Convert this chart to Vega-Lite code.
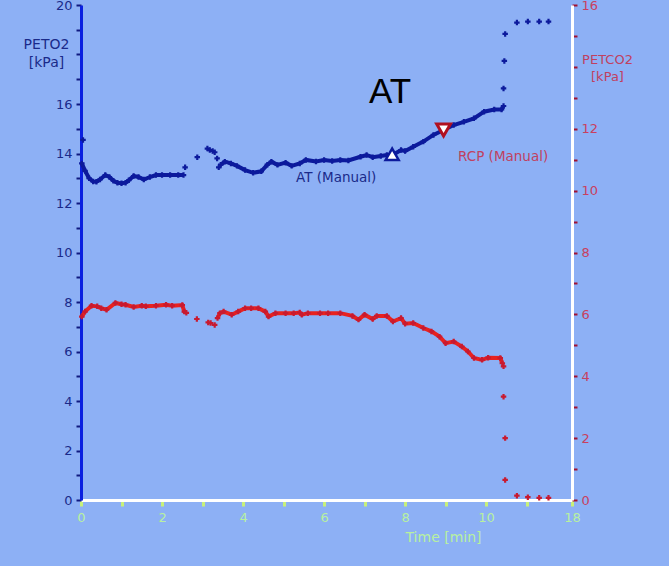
{
  "$schema": "https://vega.github.io/schema/vega-lite/v6.json",
  "width": 491,
  "height": 495,
  "autosize": {"type": "none"},
  "padding": {"left": 81, "top": 5, "right": 97, "bottom": 66},
  "background": "#8db0f5",
  "config": {
    "view": {"stroke": null},
    "font": "DejaVu Sans",
    "axis": {"grid": false, "labelFont": "DejaVu Sans", "titleFont": "DejaVu Sans", "titleFontWeight": "normal"}
  },
  "datasets": {
    "o2": [
      {"t": 0.05, "v": 14.55, "seg": "p"},
      {"t": 0.02, "v": 13.6, "seg": "a"},
      {"t": 0.1, "v": 13.3, "seg": "a"},
      {"t": 0.2, "v": 13.0, "seg": "a"},
      {"t": 0.3, "v": 12.87, "seg": "a"},
      {"t": 0.38, "v": 12.86, "seg": "a"},
      {"t": 0.47, "v": 12.95, "seg": "a"},
      {"t": 0.6, "v": 13.13, "seg": "a"},
      {"t": 0.7, "v": 13.05, "seg": "a"},
      {"t": 0.8, "v": 12.9, "seg": "a"},
      {"t": 0.9, "v": 12.82, "seg": "a"},
      {"t": 1.0, "v": 12.8, "seg": "a"},
      {"t": 1.1, "v": 12.82, "seg": "a"},
      {"t": 1.18, "v": 12.92, "seg": "a"},
      {"t": 1.3, "v": 13.09, "seg": "a"},
      {"t": 1.42, "v": 13.05, "seg": "a"},
      {"t": 1.55, "v": 12.95, "seg": "a"},
      {"t": 1.7, "v": 13.05, "seg": "a"},
      {"t": 1.85, "v": 13.13, "seg": "a"},
      {"t": 2.0, "v": 13.13, "seg": "a"},
      {"t": 2.2, "v": 13.13, "seg": "a"},
      {"t": 2.4, "v": 13.13, "seg": "a"},
      {"t": 2.53, "v": 13.13, "seg": "a"},
      {"t": 2.57, "v": 13.44, "seg": "p"},
      {"t": 2.87, "v": 13.85, "seg": "p"},
      {"t": 3.12, "v": 14.2, "seg": "p"},
      {"t": 3.18, "v": 14.14, "seg": "p"},
      {"t": 3.25, "v": 14.1, "seg": "p"},
      {"t": 3.3, "v": 14.05, "seg": "p"},
      {"t": 3.36, "v": 13.8, "seg": "p"},
      {"t": 3.4, "v": 13.44, "seg": "p"},
      {"t": 3.45, "v": 13.55, "seg": "b"},
      {"t": 3.55, "v": 13.67, "seg": "b"},
      {"t": 3.7, "v": 13.6, "seg": "b"},
      {"t": 3.85, "v": 13.5, "seg": "b"},
      {"t": 4.05, "v": 13.33, "seg": "b"},
      {"t": 4.25, "v": 13.22, "seg": "b"},
      {"t": 4.45, "v": 13.28, "seg": "b"},
      {"t": 4.6, "v": 13.55, "seg": "b"},
      {"t": 4.7, "v": 13.67, "seg": "b"},
      {"t": 4.85, "v": 13.54, "seg": "b"},
      {"t": 5.05, "v": 13.63, "seg": "b"},
      {"t": 5.2, "v": 13.5, "seg": "b"},
      {"t": 5.4, "v": 13.6, "seg": "b"},
      {"t": 5.55, "v": 13.74, "seg": "b"},
      {"t": 5.8, "v": 13.68, "seg": "b"},
      {"t": 6.0, "v": 13.74, "seg": "b"},
      {"t": 6.2, "v": 13.7, "seg": "b"},
      {"t": 6.4, "v": 13.74, "seg": "b"},
      {"t": 6.6, "v": 13.72, "seg": "b"},
      {"t": 6.9, "v": 13.87, "seg": "b"},
      {"t": 7.05, "v": 13.94, "seg": "b"},
      {"t": 7.2, "v": 13.85, "seg": "b"},
      {"t": 7.4, "v": 13.9, "seg": "b"},
      {"t": 7.55, "v": 13.94, "seg": "b"},
      {"t": 7.7, "v": 13.95, "seg": "b"},
      {"t": 7.9, "v": 14.14, "seg": "b"},
      {"t": 8.0, "v": 14.1, "seg": "b"},
      {"t": 8.2, "v": 14.27, "seg": "b"},
      {"t": 8.45, "v": 14.48, "seg": "b"},
      {"t": 8.7, "v": 14.75, "seg": "b"},
      {"t": 8.95, "v": 14.95, "seg": "b"},
      {"t": 9.2, "v": 15.15, "seg": "b"},
      {"t": 9.45, "v": 15.28, "seg": "b"},
      {"t": 9.7, "v": 15.42, "seg": "b"},
      {"t": 9.95, "v": 15.69, "seg": "b"},
      {"t": 10.2, "v": 15.78, "seg": "b"},
      {"t": 10.38, "v": 15.78, "seg": "b"},
      {"t": 10.43, "v": 15.92, "seg": "b"},
      {"t": 10.43, "v": 16.63, "seg": "p"},
      {"t": 10.45, "v": 17.74, "seg": "p"},
      {"t": 10.47, "v": 18.83, "seg": "p"},
      {"t": 10.76, "v": 19.29, "seg": "p"},
      {"t": 11.03, "v": 19.33, "seg": "p"},
      {"t": 11.31, "v": 19.33, "seg": "p"},
      {"t": 11.54, "v": 19.33, "seg": "p"}
    ],
    "co2": [
      {"t": 0.02, "v": 5.93, "seg": "a"},
      {"t": 0.1, "v": 6.09, "seg": "a"},
      {"t": 0.26, "v": 6.28, "seg": "a"},
      {"t": 0.4, "v": 6.26, "seg": "a"},
      {"t": 0.5, "v": 6.2, "seg": "a"},
      {"t": 0.63, "v": 6.15, "seg": "a"},
      {"t": 0.85, "v": 6.37, "seg": "a"},
      {"t": 1.0, "v": 6.33, "seg": "a"},
      {"t": 1.1, "v": 6.31, "seg": "a"},
      {"t": 1.3, "v": 6.24, "seg": "a"},
      {"t": 1.5, "v": 6.28, "seg": "a"},
      {"t": 1.6, "v": 6.26, "seg": "a"},
      {"t": 1.85, "v": 6.28, "seg": "a"},
      {"t": 2.1, "v": 6.31, "seg": "a"},
      {"t": 2.25, "v": 6.28, "seg": "a"},
      {"t": 2.5, "v": 6.3, "seg": "a"},
      {"t": 2.55, "v": 6.09, "seg": "a"},
      {"t": 2.6, "v": 6.05, "seg": "a"},
      {"t": 2.86, "v": 5.85, "seg": "p"},
      {"t": 3.14, "v": 5.74, "seg": "p"},
      {"t": 3.2, "v": 5.72, "seg": "p"},
      {"t": 3.3, "v": 5.66, "seg": "p"},
      {"t": 3.37, "v": 5.88, "seg": "b"},
      {"t": 3.43, "v": 6.04, "seg": "b"},
      {"t": 3.52, "v": 6.09, "seg": "b"},
      {"t": 3.72, "v": 5.99, "seg": "b"},
      {"t": 3.88, "v": 6.09, "seg": "b"},
      {"t": 4.05, "v": 6.2, "seg": "b"},
      {"t": 4.2, "v": 6.2, "seg": "b"},
      {"t": 4.38, "v": 6.2, "seg": "b"},
      {"t": 4.55, "v": 6.09, "seg": "b"},
      {"t": 4.63, "v": 5.93, "seg": "b"},
      {"t": 4.8, "v": 6.04, "seg": "b"},
      {"t": 5.05, "v": 6.04, "seg": "b"},
      {"t": 5.25, "v": 6.04, "seg": "b"},
      {"t": 5.4, "v": 6.06, "seg": "b"},
      {"t": 5.45, "v": 5.99, "seg": "b"},
      {"t": 5.6, "v": 6.04, "seg": "b"},
      {"t": 5.9, "v": 6.04, "seg": "b"},
      {"t": 6.1, "v": 6.04, "seg": "b"},
      {"t": 6.4, "v": 6.04, "seg": "b"},
      {"t": 6.7, "v": 5.95, "seg": "b"},
      {"t": 6.85, "v": 5.83, "seg": "b"},
      {"t": 7.0, "v": 5.99, "seg": "b"},
      {"t": 7.2, "v": 5.85, "seg": "b"},
      {"t": 7.3, "v": 5.95, "seg": "b"},
      {"t": 7.55, "v": 5.95, "seg": "b"},
      {"t": 7.7, "v": 5.77, "seg": "b"},
      {"t": 7.9, "v": 5.88, "seg": "b"},
      {"t": 8.0, "v": 5.7, "seg": "b"},
      {"t": 8.2, "v": 5.72, "seg": "b"},
      {"t": 8.45, "v": 5.56, "seg": "b"},
      {"t": 8.65, "v": 5.45, "seg": "b"},
      {"t": 8.85, "v": 5.28, "seg": "b"},
      {"t": 9.0, "v": 5.07, "seg": "b"},
      {"t": 9.2, "v": 5.12, "seg": "b"},
      {"t": 9.4, "v": 4.96, "seg": "b"},
      {"t": 9.55, "v": 4.8, "seg": "b"},
      {"t": 9.7, "v": 4.59, "seg": "b"},
      {"t": 9.9, "v": 4.53, "seg": "b"},
      {"t": 10.05, "v": 4.6, "seg": "b"},
      {"t": 10.35, "v": 4.59, "seg": "b"},
      {"t": 10.4, "v": 4.42, "seg": "b"},
      {"t": 10.43, "v": 4.32, "seg": "p"},
      {"t": 10.43, "v": 3.34, "seg": "p"},
      {"t": 10.47, "v": 2.0, "seg": "p"},
      {"t": 10.47, "v": 0.65, "seg": "p"},
      {"t": 10.76, "v": 0.14, "seg": "p"},
      {"t": 11.03, "v": 0.09, "seg": "p"},
      {"t": 11.31, "v": 0.07, "seg": "p"},
      {"t": 11.54, "v": 0.07, "seg": "p"}
    ]
  },
  "encoding": {
    "x": {
      "field": "t",
      "type": "quantitative",
      "scale": {"domain": [0, 12.12], "nice": false, "zero": false},
      "axis": {
        "title": "Time  [min]",
        "titleColor": "#b8f0a0",
        "titleFontSize": 14,
        "titleX": 362,
        "titleY": 30,
        "titleBaseline": "top",
        "titleAlign": "center",
        "values": [0, 1, 2, 3, 4, 5, 6, 7, 8, 9, 10, 11, 12.12],
        "labelExpr": "datum.value > 12 ? '18' : (datum.value % 2 == 0 ? datum.label : '')",
        "labelColor": "#b8f0a0",
        "labelFontSize": 13,
        "labelPadding": 5,
        "labelFlush": false,
        "labelOverlap": false,
        "domainColor": "#ffffff",
        "domainWidth": 3,
        "tickColor": "#c8f07a",
        "tickWidth": 3,
        "tickSize": 6
      }
    }
  },
  "layer": [
    {
      "encoding": {
        "y": {
          "field": "v",
          "type": "quantitative",
          "scale": {"domain": [0, 20], "nice": false},
          "axis": {
            "orient": "left",
            "title": ["PETO2", "[kPa]"],
            "titleAngle": 0,
            "titleX": -35,
            "titleY": 32,
            "titleBaseline": "top",
            "titleAlign": "center",
            "titleFontSize": 14,
            "titleLineHeight": 18,
            "titleColor": "#1a2a8a",
            "values": [0, 1, 2, 3, 4, 5, 6, 7, 8, 9, 10, 11, 12, 13, 14, 15, 16, 17, 18, 19, 20],
            "labelExpr": "(datum.value % 2 == 0 && datum.value != 18) ? datum.label : ''",
            "labelColor": "#1a2a8a",
            "labelFontSize": 13,
            "labelPadding": 4,
            "labelFlush": false,
            "labelOverlap": false,
            "domainColor": "#0a20e0",
            "domainWidth": 3,
            "tickColor": "#101a80",
            "tickWidth": 2,
            "tickSize": 5
          }
        }
      },
      "layer": [
        {
          "data": {"name": "o2"},
          "transform": [{"filter": "datum.seg != 'p'"}],
          "mark": {"type": "line", "color": "#0c1a9c", "strokeWidth": 4, "strokeJoin": "miter"},
          "encoding": {"detail": {"field": "seg"}}
        },
        {
          "data": {"name": "o2"},
          "mark": {"type": "point", "shape": "cross", "filled": true, "size": 30, "color": "#0c1a9c", "opacity": 1}
        },
        {
          "data": {"values": [{"t": 7.68, "v": 13.97}]},
          "mark": {"type": "point", "shape": "triangle-up", "filled": true, "fill": "#ffffff", "stroke": "#0c1a9c", "strokeWidth": 2.5, "size": 170, "opacity": 1}
        },
        {
          "data": {"values": [{"t": 8.95, "v": 14.95}]},
          "mark": {"type": "point", "shape": "triangle-down", "filled": true, "fill": "#ffffff", "stroke": "#b01020", "strokeWidth": 3, "size": 190, "opacity": 1}
        },
        {
          "data": {"values": [{"t": 7.63, "v": 16.48, "label": "AT"}]},
          "mark": {"type": "text", "font": "Liberation Sans", "fontSize": 35, "color": "#000000", "baseline": "middle", "align": "center"},
          "encoding": {"text": {"field": "label"}}
        },
        {
          "data": {"values": [{"t": 6.3, "v": 13.01, "label": "AT (Manual)"}]},
          "mark": {"type": "text", "fontSize": 13.5, "color": "#1a2a8a", "baseline": "middle", "align": "center"},
          "encoding": {"text": {"field": "label"}}
        },
        {
          "data": {"values": [{"t": 10.42, "v": 13.86, "label": "RCP (Manual)"}]},
          "mark": {"type": "text", "fontSize": 13.5, "color": "#c04060", "baseline": "middle", "align": "center"},
          "encoding": {"text": {"field": "label"}}
        }
      ]
    },
    {
      "data": {"name": "co2"},
      "encoding": {
        "y": {
          "field": "v",
          "type": "quantitative",
          "scale": {"domain": [0, 16], "nice": false},
          "axis": {
            "orient": "right",
            "title": ["PETCO2", "[kPa]"],
            "titleAngle": 0,
            "titleX": 35,
            "titleY": 48,
            "titleBaseline": "top",
            "titleAlign": "center",
            "titleFontSize": 13,
            "titleLineHeight": 17,
            "titleColor": "#c04060",
            "values": [0, 1, 2, 3, 4, 5, 6, 7, 8, 9, 10, 11, 12, 13, 14, 15, 16],
            "labelExpr": "(datum.value % 2 == 0 && datum.value != 14) ? datum.label : ''",
            "labelColor": "#c84060",
            "labelFontSize": 13,
            "labelPadding": 4,
            "labelFlush": false,
            "labelOverlap": false,
            "domainColor": "#ffffff",
            "domainWidth": 3,
            "tickColor": "#a01030",
            "tickWidth": 2,
            "tickSize": 5
          }
        }
      },
      "layer": [
        {
          "transform": [{"filter": "datum.seg != 'p'"}],
          "mark": {"type": "line", "color": "#e8221f", "strokeWidth": 4, "strokeJoin": "miter"},
          "encoding": {"detail": {"field": "seg"}}
        },
        {
          "mark": {"type": "point", "shape": "cross", "filled": true, "size": 30, "color": "#c81a30", "opacity": 1}
        }
      ]
    }
  ],
  "resolve": {"scale": {"y": "independent"}, "axis": {"y": "independent"}}
}
